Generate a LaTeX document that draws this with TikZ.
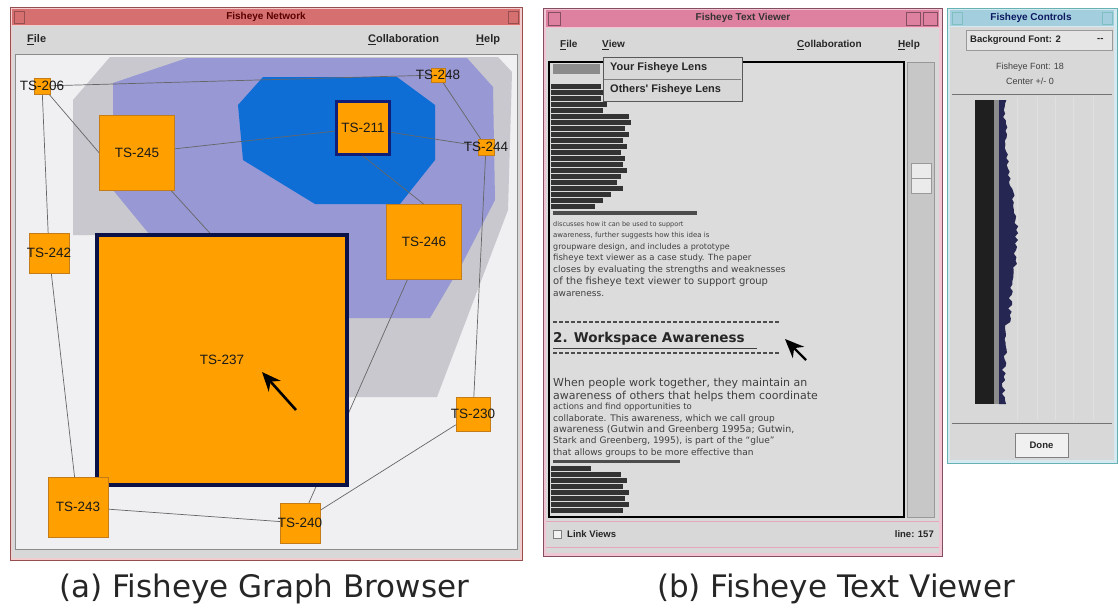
\documentclass[tikz,border=0pt]{standalone}
\usepackage{fontspec}
\setmainfont{DejaVu Sans}
\newfontfamily\uifont{Liberation Sans}
\usetikzlibrary{backgrounds,arrows.meta}

\definecolor{canvas}{RGB}{240,240,242}
\definecolor{hullgray}{RGB}{200,200,206}
\definecolor{hullpurple}{RGB}{152,152,212}
\definecolor{hullblue}{RGB}{14,110,214}
\definecolor{tsorange}{RGB}{255,160,0}
\definecolor{tsedge}{RGB}{196,124,24}
\definecolor{navy}{RGB}{16,30,120}
\definecolor{winred}{RGB}{214,112,112}
\definecolor{winpink}{RGB}{222,128,160}
\definecolor{winblue}{RGB}{162,206,222}
\definecolor{panel}{RGB}{216,216,216}
\definecolor{textbg}{RGB}{220,220,220}

\begin{document}
\begin{tikzpicture}[x=1pt,y=-1pt,
  ts/.style={draw=tsedge,fill=tsorange,minimum size=#1,inner sep=0pt},
  every label/.style={font=\uifont\fontsize{13.5}{13.5}\selectfont,text=black!90},
  link/.style={draw=black!60,line width=0.7pt},
  pointer/.style={-{Stealth[length=19pt,width=16pt]},line width=2.6pt},
  menu/.style={anchor=west,inner sep=0pt,font=\uifont\bfseries\fontsize{11}{12}\selectfont,text=black!85},
  wintitle/.style={font=\uifont\bfseries\fontsize{10}{10}\selectfont},
  txt/.style={anchor=west,inner sep=0pt,text=black!75,font=\fontsize{#1}{#1}\selectfont}]
\useasboundingbox (0,0) rectangle (1119,608);

% the network: one box per document
\node[ts=16,label={center:TS-206}] (206) at (42,86) {};
\node[ts=14,label={center:TS-248}] (248) at (438,75) {};
\node[ts=53,draw=navy,line width=3pt,label={center:TS-211}] (211) at (363,128) {};
\node[ts=16,label={center:TS-244}] (244) at (486,147) {};
\node[ts=75,label={center:TS-245}] (245) at (137,153) {};
\node[ts=75,label={center:TS-246}] (246) at (424,242) {};
\node[ts=40,label={center:TS-242}] (242) at (49,253) {};
\node[ts=250,draw=navy!60!black,line width=3.5pt,label={center:TS-237}] (237) at (222,360) {};
\node[ts=34,label={center:TS-230}] (230) at (473,414) {};
\node[ts=60,label={center:TS-243}] (243) at (78,507) {};
\node[ts=40,label={center:TS-240}] (240) at (300,523) {};
\draw[pointer] (296,410) -- (262,372);

\begin{pgfonlayer}{background}
\fill[white] (0,0) rectangle (1119,608);
% graph browser window
\filldraw[fill=winred!35,draw=winred!70!black] (10,7) rectangle (522,560);
\fill[winred] (12,9) rectangle (520,25);
\draw[winred!70!black] (14,11) rectangle (24,23) (508,11) rectangle (518,23);
\node[wintitle,text=red!35!black] (nettitle) at (266,17) {Fisheye Network};
\fill[panel] (12,26) rectangle (520,558);
\node[menu] (netfile) at (27,40) {\underline{F}ile};
\node[menu] (netcollab) at (368,40) {\underline{C}ollaboration};
\node[menu] (nethelp) at (476,40) {\underline{H}elp};
\filldraw[fill=canvas,draw=black!45] (15,54) rectangle (517,549);
% group hulls
\fill[hullgray] (73,100) -- (110,57) -- (498,57) -- (512,72) -- (508,210)
  -- (437,397) -- (348,397) -- (348,235) -- (73,235) -- cycle;
\fill[hullpurple] (113,83) -- (187,58) -- (467,58) -- (493,87) -- (495,200)
  -- (463,262) -- (430,318) -- (348,318) -- (348,235) -- (150,235) -- (113,190) -- cycle;
\fill[hullblue] (238,105) -- (263,77) -- (397,77) -- (435,105) -- (435,160)
  -- (400,204) -- (315,204) -- (243,160) -- cycle;
% links
\draw[link] (206) -- (248);
\draw[link] (206) -- (242);
\draw[link] (206) -- (245.west);
\draw[link] (245) -- (211);
\draw[link] (211) -- (244);
\draw[link] (248) -- (244);
\draw[link] (211.south) -- (246.north);
\draw[link] (245) -- ([xshift=-12pt]237.north);
\draw[link] (244) -- (230);
\draw[link] (246) -- (240);
\draw[link] (242) -- (243);
\draw[link] (243) -- (240);
\draw[link] (240) -- (230);
\end{pgfonlayer}

% text viewer window
\filldraw[fill=winpink!45,draw=winpink!60!black] (543,8) rectangle (942,556);
\fill[winpink] (546,10) rectangle (939,27);
\draw[winpink!60!black] (548,12) rectangle (560,25) (906,12) rectangle (920,25) (923,12) rectangle (937,25);
\node[wintitle,text=black!80] (viewtitle) at (743,18) {Fisheye Text Viewer};
\fill[panel] (546,28) rectangle (939,553);
\node[menu,font=\uifont\bfseries\fontsize{10}{11}\selectfont] (viewfile) at (560,45) {\underline{F}ile};
\node[menu,font=\uifont\bfseries\fontsize{10}{11}\selectfont] (viewview) at (602,45) {\underline{V}iew};
\node[menu,font=\uifont\bfseries\fontsize{10}{11}\selectfont] (viewcollab) at (797,45) {\underline{C}ollaboration};
\node[menu,font=\uifont\bfseries\fontsize{10}{11}\selectfont] (viewhelp) at (898,45) {\underline{H}elp};
\filldraw[fill=textbg,draw=black,line width=1.2pt] (549,62) rectangle (904,517);
% scroll bar
\filldraw[fill=black!22,draw=black!40] (907,62) rectangle (934,517);
\filldraw[fill=black!8,draw=black!40] (911,163) rectangle (931,193);
\draw[black!40] (911,178) -- (931,178);

% compressed lines far from the focus
\fill[black!45] (553,64) rectangle (600,74);
\foreach \y/\w in {84/50,90/54,96/50,102/56,108/52,114/78,120/80,126/74,132/78,138/72,
  144/76,150/70,156/74,162/72,168/76,174/70,180/66,186/72,192/60,198/52,204/44}
  \fill[black!80] (551,\y) rectangle ++(\w,4.6);
\fill[black!70] (553,211) rectangle (697,215);
\foreach \y/\s/\words in {225/6.5/{discusses how it can be used to support},
  236/7/{awareness, further suggests how this idea is},
  247/8/{groupware design, and includes a prototype},
  258/8.5/{fisheye text viewer as a case study. The paper},
  270/9/{closes by evaluating the strengths and weaknesses},
  282/10/{of the fisheye text viewer to support group},
  294/9/{awareness.}}
  \node[txt=\s] at (553,\y) {\words};
% focus heading
\draw[black!70,line width=1.3pt,dash pattern=on 4pt off 2pt] (553,322) -- (780,322);
\node[txt=13.5,font=\bfseries\fontsize{13.5}{14}\selectfont,text=black!85] (focus) at (553,339) {2. Workspace Awareness};
\draw[black!75,line width=1pt] (553,348) -- (757,348);
\draw[black!70,line width=1.3pt,dash pattern=on 4pt off 2pt] (553,353) -- (780,353);
\draw[pointer,line width=2.4pt] (806,360) -- (785,339);
\foreach \y/\s/\words in {383/11/{When people work together, they maintain an},
  396/11/{awareness of others that helps them coordinate},
  407/8.5/{actions and find opportunities to},
  419/9/{collaborate. This awareness, which we call group},
  430/9.5/{awareness (Gutwin and Greenberg 1995a; Gutwin,},
  441/9/{Stark and Greenberg, 1995), is part of the ``glue''},
  453/9/{that allows groups to be more effective than}}
  \node[txt=\s] at (553,\y) {\words};
\fill[black!70] (553,460) rectangle (680,463);
\foreach \y/\w in {466/40,472/70,478/76,484/72,490/78,496/74,502/78,508/72}
  \fill[black!80] (551,\y) rectangle ++(\w,4.6);

% view menu pulled down
\filldraw[fill=panel,draw=black!65,line width=0.8pt] (603,57) rectangle (742,101);
\draw[black!50] (604,79) -- (741,79);
\node[menu] (ownlens) at (610,68) {Your Fisheye Lens};
\node[menu] (otherlens) at (610,90) {Others' Fisheye Lens};

% status bar
\draw[winpink!70] (546,521) -- (939,521) (546,547) -- (939,547);
\filldraw[fill=black!5,draw=black!50] (553,530) rectangle (561,538);
\node[menu,font=\uifont\bfseries\fontsize{9.5}{10}\selectfont] (linkviews) at (567,534) {Link Views};
\node[menu,anchor=east,font=\uifont\bfseries\fontsize{9.5}{10}\selectfont] (lineno) at (934,534) {line: 157};

% controls window
\filldraw[fill=winblue!45,draw=teal!60] (947,8) rectangle (1117,463);
\fill[winblue] (950,10) rectangle (1114,26);
\draw[teal!50] (952,12) rectangle (962,24) (1102,12) rectangle (1112,24);
\node[wintitle,text=navy!80!black] (ctrltitle) at (1031,18) {Fisheye Controls};
\fill[panel] (950,27) rectangle (1114,460);
\filldraw[fill=black!10,draw=black!40] (966,30) rectangle (1112,50);
\node[menu,font=\uifont\bfseries\fontsize{9.5}{10}\selectfont] (bgfont) at (970,40) {Background Font: 2};
\node[menu,font=\uifont\bfseries\fontsize{9.5}{10}\selectfont] (bgarrow) at (1097,40) {--};
\node[font=\uifont\fontsize{9}{9}\selectfont,text=black!75] (fishfont) at (1030,67) {Fisheye Font: 18};
\node[font=\uifont\fontsize{9}{9}\selectfont,text=black!75] (center) at (1030,81) {Center +/- 0};
\draw[black!55,line width=1pt] (952,94) -- (1112,94);
\foreach \x in {1017,1037,1055,1073,1093}
  \draw[black!12] (\x,97) -- (\x,420);
\fill[black!88] (975,100) rectangle (994,404);
\fill[black!45] (994,100) rectangle (999,404);
\pgfmathsetseed{11}
\fill[black!75!blue!70!gray] (999,100)
  -- plot[domain=100:404,samples=90,variable=\t]
     ({1001+13*exp(-((\t-240)/80)*((\t-240)/80))+5*rnd},\t)
  -- (999,404) -- cycle;
\draw[black!55,line width=1pt] (952,423) -- (1112,423);
\filldraw[fill=black!6,draw=black!50] (1015,433) rectangle (1068,457);
\node[font=\uifont\bfseries\fontsize{9.5}{10}\selectfont,text=black!85] (done) at (1041.5,445) {Done};

% captions
\node[font=\fontsize{31}{34}\selectfont,text=black!85] (capa) at (264,589) {(a) Fisheye Graph Browser};
\node[font=\fontsize{31}{34}\selectfont,text=black!85] (capb) at (836,589) {(b) Fisheye Text Viewer};
\end{tikzpicture}
\end{document}
